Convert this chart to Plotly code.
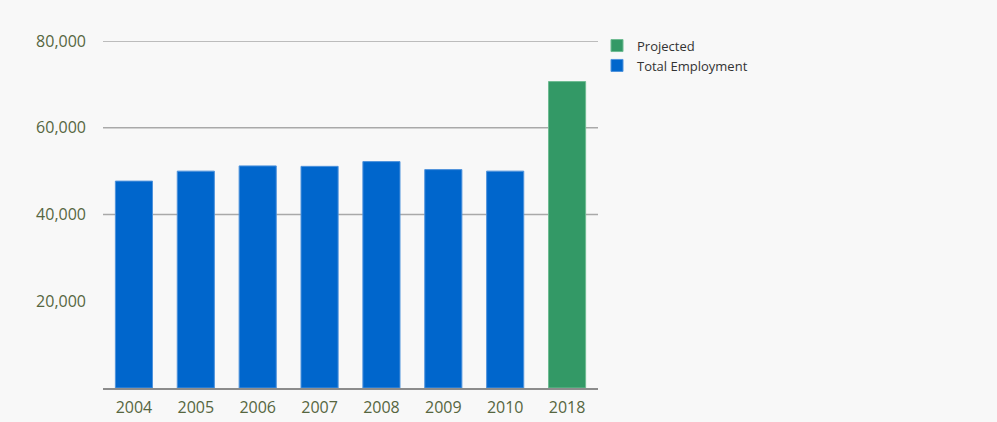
import plotly.graph_objects as go

# data
years = ['2004', '2005', '2006', '2007', '2008', '2009', '2010']
employment = [47700, 50000, 51200, 51100, 52200, 50350, 50000]
proj_years = ['2018']
projected = [70650]

y_ticks = [20000, 40000, 60000, 80000]
grid_lines = [40000, 60000, 80000]

BLUE = '#0066cc'
GREEN = '#339966'
TICK_COLOR = '#56663f'

fig = go.Figure()

fig.add_trace(go.Bar(
    x=proj_years,
    y=projected,
    name='Projected',
    marker=dict(color=GREEN, line=dict(color='#6fbb92', width=1)),
))

fig.add_trace(go.Bar(
    x=years,
    y=employment,
    name='Total Employment',
    marker=dict(color=BLUE, line=dict(color='#4f93dc', width=1)),
))

# gridlines drawn behind the bars (none visible at 20,000 in the original)
for g in grid_lines:
    fig.add_shape(
        type='line', xref='paper', yref='y',
        x0=0, x1=1, y0=g, y1=g,
        line=dict(color='#a9a9a9', width=1.5),
        layer='below',
    )

fig.update_layout(
    width=997,
    height=422,
    margin=dict(l=103, r=399, t=41, b=34),
    paper_bgcolor='#f8f8f8',
    plot_bgcolor='#f8f8f8',
    barmode='overlay',
    bargap=0.4,
    font=dict(family='Open Sans, sans-serif', color='#333333'),
    legend=dict(
        x=0.998, y=1.03,
        xanchor='left', yanchor='top',
        traceorder='normal',
        itemwidth=30,
        font=dict(size=13, color='#333333'),
        bgcolor='rgba(0,0,0,0)',
    ),
    xaxis=dict(
        type='category',
        categoryorder='array',
        categoryarray=years + proj_years,
        showgrid=False,
        showline=True,
        linecolor='#8c8c8c',
        linewidth=2,
        ticks='',
        ticklabelstandoff=4,
        automargin=False,
        tickfont=dict(size=16, color=TICK_COLOR),
    ),
    yaxis=dict(
        range=[0, 80000],
        tickvals=y_ticks,
        tickformat=',d',
        showgrid=False,
        zeroline=False,
        showline=False,
        ticks='',
        ticklabelstandoff=16,
        automargin=False,
        tickfont=dict(size=16, color=TICK_COLOR),
    ),
)

fig.write_html("out.html", config={'displayModeBar': False},
               post_script="document.body.style.margin='0';")
